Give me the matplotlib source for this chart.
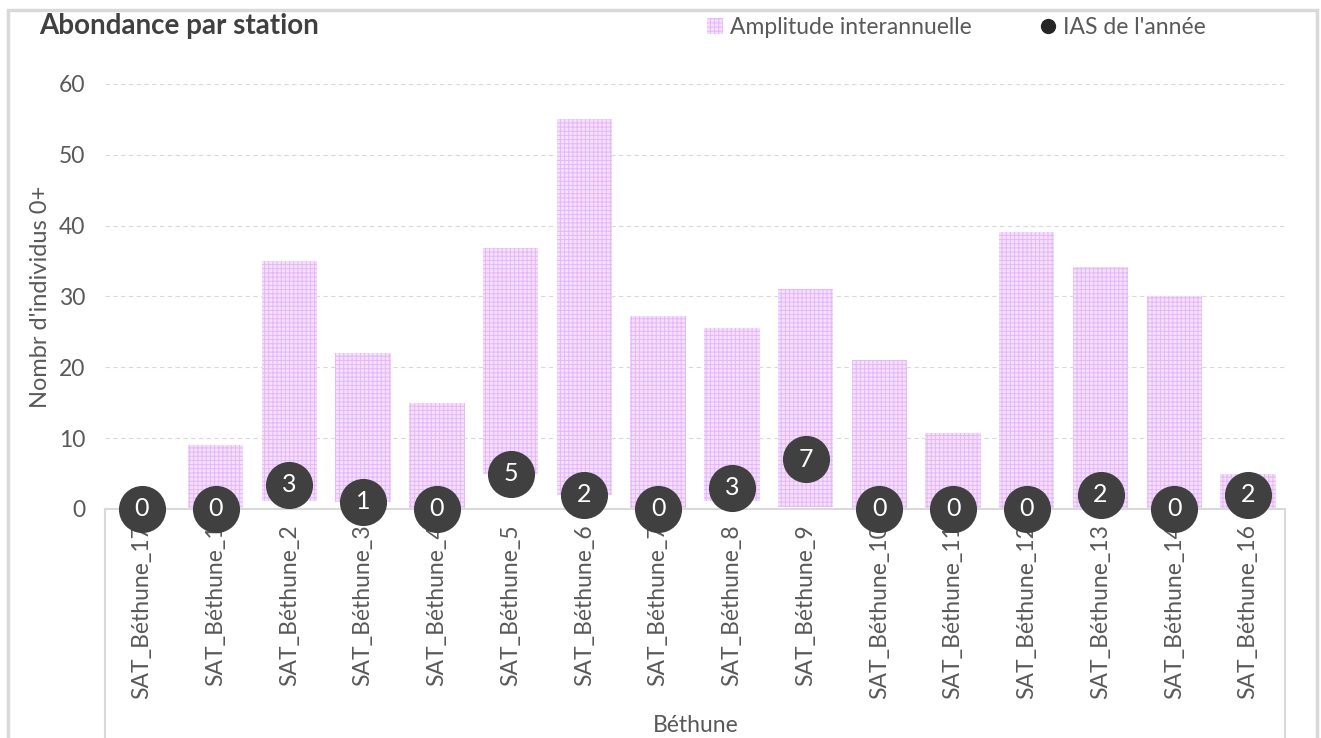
import matplotlib.pyplot as plt
import matplotlib.patches as mpatches
from matplotlib.lines import Line2D

plt.rcParams['font.family'] = ['Lato', 'DejaVu Sans']
plt.rcParams['hatch.color'] = '#e6b7f8'
plt.rcParams['hatch.linewidth'] = 0.7

# donnees
stations = ["SAT_Béthune_17", "SAT_Béthune_1", "SAT_Béthune_2", "SAT_Béthune_3",
            "SAT_Béthune_4", "SAT_Béthune_5", "SAT_Béthune_6", "SAT_Béthune_7",
            "SAT_Béthune_8", "SAT_Béthune_9", "SAT_Béthune_10", "SAT_Béthune_11",
            "SAT_Béthune_12", "SAT_Béthune_13", "SAT_Béthune_14", "SAT_Béthune_16"]
amp_min = [0, 0, 1.1, 1, 0, 5, 2, 0, 1.1, 0.3, 0, 0, 0, 0, 0, 0]
amp_max = [0, 9, 35, 22, 15, 36.8, 55, 27.2, 25.5, 31, 21.1, 10.7, 39.1, 34.1, 30.1, 5]
ias = [0, 0, 3.4, 1, 0, 5, 2, 0, 3, 7, 0, 0, 0, 2, 0, 2]
yticks = [0, 10, 20, 30, 40, 50, 60]

grey_txt = '#595959'
dark = '#404040'
line_grey = '#d9d9d9'
bar_face = '#f4e0fd'

fig = plt.figure(figsize=(13.21, 7.38), dpi=100)
ax = fig.add_axes([0.0795, 0.3103, 0.8932, 0.5759])

x = list(range(len(stations)))
heights = [hi - lo for lo, hi in zip(amp_min, amp_max)]
ax.bar(x, heights, bottom=amp_min, width=0.75, color=bar_face,
       hatch='++++', edgecolor='#e6b7f8', linewidth=0, zorder=2)

ax.scatter(x, ias, s=1150, color=dark, zorder=4, clip_on=False, linewidths=0)
for xi, v in zip(x, ias):
    ax.text(xi, v, f"{v:.0f}", color='white', fontsize=18, ha='center',
            va='center', zorder=5)

ax.set_xlim(-0.5, len(stations) - 0.5)
ax.set_ylim(0, 60)
ax.set_yticks(yticks)
ax.set_xticks(x)
ax.set_xticklabels(stations, rotation=90, fontsize=16.5, color=grey_txt)
ax.tick_params(axis='y', length=0, labelsize=16.5, labelcolor=grey_txt, pad=14)
ax.tick_params(axis='x', length=0, pad=11)
ax.yaxis.grid(True, color=line_grey, linestyle=(0, (4, 3)), linewidth=0.8, zorder=0)
ax.set_axisbelow(True)
for s in ['top', 'right', 'left']:
    ax.spines[s].set_visible(False)
ax.spines['bottom'].set_color(line_grey)
ax.spines['bottom'].set_linewidth(1.5)
ax.spines['bottom'].set_zorder(3)

# cadre de l'axe multi-niveaux
for xa in [0, 1]:
    ax.plot([xa, xa], [0, -0.6], transform=ax.transAxes, color=line_grey,
            linewidth=1.5, clip_on=False, zorder=1)

ax.set_ylabel("Nombr d'individus 0+", fontsize=17, color=grey_txt, labelpad=6)

fig.text(0.5265, 0.003, "Béthune", fontsize=16.5, color=grey_txt, ha='center', va='bottom')
fig.text(0.030, 0.965, "Abondance par station", fontsize=20, fontweight='bold',
         color=dark, ha='left', va='center')

# bordure du graphique
fig.patches.append(mpatches.Rectangle((0.006, -0.1), 0.991, 1.087, transform=fig.transFigure,
                                      fill=False, edgecolor=line_grey, linewidth=2.5))

handles = [mpatches.Patch(facecolor=bar_face, hatch='++++', edgecolor='#e6b7f8', linewidth=0,
                          label='Amplitude interannuelle'),
           Line2D([], [], marker='o', color='none', markerfacecolor='#262626',
                  markeredgewidth=0, markersize=11, label="IAS de l'année")]
fig.legend(handles=handles, loc='center', bbox_to_anchor=(0.724, 0.963), ncol=2,
           frameon=False, fontsize=16.5, handlelength=0.7, handletextpad=0.3,
           columnspacing=3.0, labelcolor=grey_txt)

fig.savefig('out.png', dpi=100)
